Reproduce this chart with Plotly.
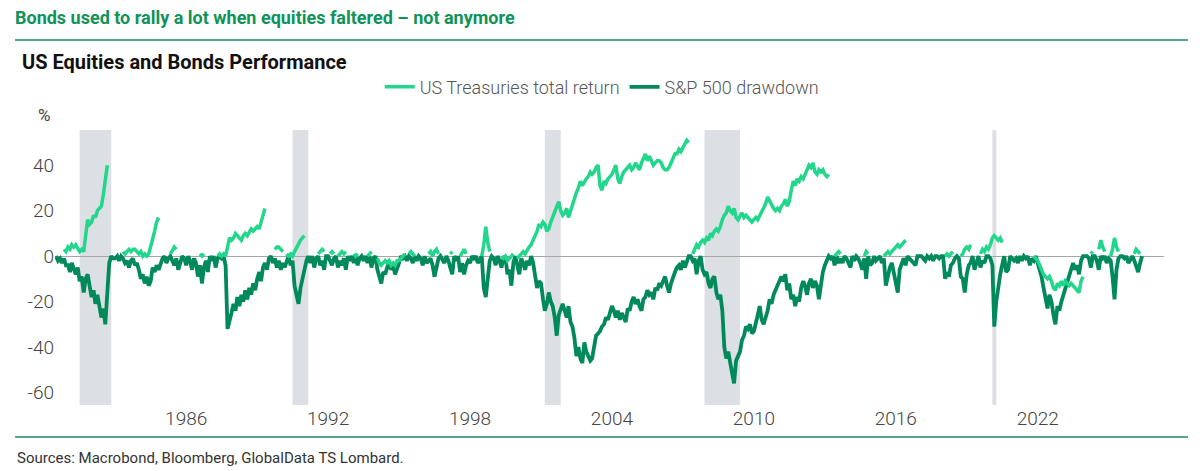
import pandas as pd
import plotly.graph_objects as go

N = None

MONTHS = pd.date_range("1980-07-01", "2026-06-01", freq="MS")

SPX_DRAWDOWN = [
    0, -2, -1, -3, -1, -4,                                   # 1980 H2
    -4, -7, -3, -6, -8, -5, -11, -9, -16, -10, -8, -13,      # 1981
    -18, -15, -21, -17, -22, -27, -23, -30, -16, -3, 0, -1,  # 1982
    -1, 0, -2, 0, -1, -3, -2, -5, -2, -1, -4, -3,            # 1983
    -6, -10, -8, -12, -9, -13, -11, -5, -7, -4, -6, -3,      # 1984
    -1, 0, -3, -1, 0, -2, -4, -1, -6, -3, 0, -1,             # 1985
    -4, 0, -2, -6, -1, -3, -9, -4, -12, -5, -2, -7,          # 1986
    0, -2, 0, -5, -1, 0, -1, 0, -4, -32, -29, -25,           # 1987
    -21, -24, -18, -22, -17, -20, -15, -19, -14, -17, -12, -15,  # 1988
    -10, -7, -11, -5, -3, -6, -1, 0, -3, -1, -5, -2,         # 1989
    -6, -3, -5, -2, 0, -4, -2, -13, -17, -21, -14, -10,      # 1990
    -6, -2, 0, -3, 0, -5, -1, 0, -4, -2, -6, 0,              # 1991
    0, -2, -4, -1, 0, -5, -2, -4, -1, -6, 0, -2,             # 1992
    0, -3, 0, -4, -1, 0, -2, 0, -3, 0, -5, -1,               # 1993
    0, -6, -9, -12, -7, -8, -5, -3, -6, -4, -8, -6,          # 1994
    -3, 0, -1, 0, -2, 0, -1, -3, 0, -2, 0, -1,               # 1995
    -4, 0, -3, -2, -1, -4, -9, -5, -1, 0, -2, -3,            # 1996
    0, -2, -5, -8, 0, -2, 0, -7, -3, -8, -4, -2,             # 1997
    -3, 0, -1, 0, -3, -1, 0, -14, -18, -10, -2, 0,           # 1998
    -1, -4, 0, -2, -5, -1, 0, -8, -6, -13, -3, 0,            # 1999
    -5, -8, -1, -3, -6, -2, -4, 0, -3, -9, -14, -11,         # 2000
    -12, -19, -24, -21, -16, -20, -22, -27, -35, -26, -23, -21,  # 2001
    -24, -27, -22, -29, -31, -36, -44, -40, -45, -47, -38, -42,  # 2002
    -44, -46, -45, -40, -35, -34, -33, -31, -30, -27, -28, -25,  # 2003
    -22, -24, -27, -24, -28, -25, -27, -29, -23, -24, -20, -18,  # 2004
    -21, -19, -22, -24, -19, -18, -15, -17, -16, -19, -14, -15,  # 2005
    -12, -13, -11, -9, -13, -16, -12, -10, -7, -5, -4, -6,   # 2006
    -2, -5, -3, 0, 0, -2, -1, -8, -2, 0, -6, -8,             # 2007
    -7, -12, -14, -10, -9, -16, -19, -17, -24, -40, -45, -42,    # 2008
    -47, -52, -56, -46, -44, -42, -37, -35, -31, -32, -30, -34,  # 2009
    -33, -30, -26, -22, -28, -30, -27, -24, -19, -21, -17, -15,  # 2010
    -13, -10, -9, -11, -8, -15, -12, -19, -17, -22, -18, -20,    # 2011
    -14, -11, -13, -17, -12, -10, -14, -11, -13, -19, -12, -7,   # 2012
    -4, -2, 0, -1, 0, -4, 0, -3, -1, -3, 0, -1,              # 2013
    -3, -5, 0, -2, 0, -1, -3, -6, -1, -10, 0, -4,            # 2014
    -3, 0, -2, -1, 0, -3, -1, -13, -9, -5, -3, -7,           # 2015
    -11, -16, -6, -3, -1, -4, 0, -1, -2, -3, -4, 0,          # 2016
    0, 0, -1, -2, 0, -1, 0, -2, 0, 0, -1, 0,                 # 2017
    0, -10, -7, -9, -4, -3, -1, 0, -1, -9, -10, -16,         # 2018
    -8, -4, -3, 0, -6, -2, 0, -5, -2, -3, 0, 0,              # 2019
    -1, -4, -31, -20, -13, -8, -4, 0, -7, -6, 0, -1,         # 2020
    -2, -1, -3, 0, -2, 0, -1, 0, -4, -1, -2, 0,              # 2021
    -3, -6, -9, -14, -19, -23, -17, -20, -26, -30, -22, -24, # 2022
    -20, -17, -14, -12, -9, -6, -3, -6, -4, -8, -2, 0,       # 2023
    0, 0, -1, -5, 0, 0, -2, -6, 0, -1, 0, -3,                # 2024
    -1, -2, -9, -19, -6, -1, 0, 0, -1, 0, -3, -1,            # 2025
    0, -2, -4, -7, -3, 0,                                    # 2026 H1
]

# treasury total return since the prior equity peak, only shown while stocks are in drawdown
UST_TOTAL_RETURN = [
    N, N, N, N, 3, 2,                                        # 1980 H2
    4, 3, 5, 4, 5, 3, 2, 3, 2, 9, 16, 14,                    # 1981
    15, 18, 17, 20, 21, 22, 27, 33, 40, N, N, N,             # 1982
    N, N, N, N, 2, 1, 2, 3, 2, 3, 3, 2,                      # 1983
    1, 2, 0, 1, 0, 1, 4, 8, 11, 15, 17, N,                   # 1984
    N, N, N, N, 1, 3, 4, 3, N, N, N, N,                      # 1985
    N, N, N, N, N, N, N, 1, 0, 1, N, N,                      # 1986
    N, N, N, N, 0, 1, 0, 1, 0, 4, 8, 7,                      # 1987
    8, 10, 9, 8, 7, 9, 10, 9, 11, 12, 11, 12,                # 1988
    13, 12, 15, 17, 21, N, N, N, N, 3, 4, 4,                 # 1989
    3, 2, N, 1, 0, 1, 0, 2, 4, 5, 7, 8,                      # 1990
    9, N, N, N, N, N, N, 1, 2, 3, 2, N,                      # 1991
    N, 1, 2, 1, N, 0, 1, 2, 1, 2, N, N,                      # 1992
    N, 1, 0, 1, N, N, N, N, 0, 1, 2, N,                      # 1993
    N, -1, -3, -4, -3, -2, -3, -2, -4, -3, -4, -2,           # 1994
    -2, -1, 0, 1, N, 1, 2, 1, 0, N, N, N,                    # 1995
    N, N, N, 1, 2, 0, 2, 3, 1, N, N, N,                      # 1996
    N, N, 1, 2, N, N, N, 0, 2, 3, 1, N,                      # 1997
    N, N, N, N, N, N, 0, 5, 13, 6, 2, N,                     # 1998
    N, 0, N, N, 0, -1, 0, -2, -1, 0, 1, N,                   # 1999
    -1, 0, 1, 2, 1, 3, 4, 5, 7, 9, 11, 14,                   # 2000
    13, 15, 14, 11, 12, 15, 17, 19, 22, 24, 20, 18,          # 2001
    19, 21, 17, 20, 22, 25, 28, 30, 33, 31, 33, 34,          # 2002
    35, 37, 36, 37, 39, 40, 31, 29, 33, 32, 34, 35,          # 2003
    36, 38, 40, 34, 32, 35, 37, 38, 39, 40, 38, 39,          # 2004
    41, 39, 38, 41, 43, 45, 42, 44, 42, 40, 41, 42,          # 2005
    42, 41, 39, 38, 38, 39, 41, 43, 45, 45, 47, 46,          # 2006
    48, 50, 51, 50, N, 1, 3, 5, 4, 6, 7, 6,                  # 2007
    8, 7, 10, 9, 11, 12, 11, 13, 16, 18, 19, 22,             # 2008
    20, 19, 21, 17, 16, 18, 19, 17, 18, 17, 16, 15,          # 2009
    16, 17, 16, 18, 20, 22, 23, 26, 24, 23, 21, 20,          # 2010
    21, 20, 22, 23, 25, 22, 24, 29, 33, 31, 34, 33,          # 2011
    35, 34, 36, 38, 40, 39, 41, 37, 36, 38, 37, 38,          # 2012
    36, 35, 36, N, N, 0, 1, 2, 1, N, N, N,                   # 2013
    N, N, N, N, N, N, N, N, 0, 2, 1, N,                      # 2014
    N, N, N, N, N, N, 0, 1, 2, 1, 2, 3,                      # 2015
    4, 5, 4, 5, 6, 7, N, N, N, N, N, N,                      # 2016
    N, N, N, N, N, N, N, N, N, N, N, N,                      # 2017
    N, 0, 1, 0, 1, 2, N, N, N, 0, 1, 3,                      # 2018
    4, 3, 5, N, N, N, N, 1, 3, 2, 4, 3,                      # 2019
    5, 8, 9, 8, 7, 8, 6, N, N, N, N, N,                      # 2020
    N, N, N, N, N, N, N, N, N, N, 0, -1,                     # 2021
    -2, -4, -6, -8, -9, -10, -9, -11, -14, -15, -12, -13,    # 2022
    -11, -13, -11, -12, -13, -12, -13, -14, -15, -16, -11, -9,   # 2023
    N, N, N, 1, 2, N, N, 3, 7, 4, 2, N,                      # 2024
    N, 0, 3, 8, 4, 2, N, N, N, N, 1, N,                      # 2025
    N, 1, 3, 2, 1, N,                                        # 2026 H1
]

# US recessions (shaded)
RECESSION_START = ["1981-07-01", "1990-07-01", "2001-03-01", "2007-12-01", "2020-02-01"]
RECESSION_END = ["1982-11-01", "1991-03-01", "2001-11-01", "2009-06-01", "2020-04-01"]

TICK_YEARS = ["1986", "1992", "1998", "2004", "2010", "2016", "2022"]
Y_TICKS = [-60, -40, -20, 0, 20, 40]

assert len(SPX_DRAWDOWN) == len(MONTHS) == len(UST_TOTAL_RETURN)

LIGHT = "#22d68b"
DARK = "#00895a"
BRAND = "#0f9358"
TXT = "#444444"
FONT = "Roboto"

fig = go.Figure()
fig.add_trace(go.Scatter(x=MONTHS, y=SPX_DRAWDOWN, name="S&P 500 drawdown", mode="lines",
                         line=dict(color=DARK, width=3.8)))
fig.add_trace(go.Scatter(x=MONTHS, y=UST_TOTAL_RETURN, name="US Treasuries total return",
                         mode="lines", connectgaps=False, line=dict(color=LIGHT, width=3.5)))

for s, e in zip(RECESSION_START, RECESSION_END):
    fig.add_shape(type="rect", xref="x", yref="paper", x0=s, x1=e, y0=0, y1=1,
                  fillcolor="#dcdfe4", line_width=0, layer="below")

# header / footer rules
for yy in (1.327, -0.116):
    fig.add_shape(type="line", xref="paper", yref="paper", x0=-0.036, x1=1.0216, y0=yy, y1=yy,
                  line=dict(color="#1d8a5e", width=1.5))

fig.add_annotation(text="<b>US Equities and Bonds Performance</b>", xref="paper", yref="paper",
                   x=-0.0316, y=1.247, xanchor="left", yanchor="middle", showarrow=False,
                   font=dict(family=FONT, size=20, color="#111111"))
fig.add_annotation(text="%", xref="paper", yref="paper", x=-0.003, y=1.055,
                   xanchor="right", yanchor="middle", showarrow=False,
                   font=dict(family=FONT, size=17, color=TXT))
fig.add_annotation(text="Sources: Macrobond, Bloomberg, GlobalData TS Lombard.", xref="paper",
                   yref="paper", x=-0.036, y=-0.193, xanchor="left", yanchor="middle",
                   showarrow=False, font=dict(family=FONT, size=15, color="#333333"))

fig.update_xaxes(type="date", range=["1980-06-15", "2027-05-05"],
                 tickvals=[f"{y}-01-01" for y in TICK_YEARS], ticktext=TICK_YEARS,
                 showgrid=False, zeroline=False, showline=False, ticks="",
                 tickfont=dict(family=FONT, size=19, color=TXT, weight=300))
fig.update_yaxes(range=[-65.5, 55.5], tickvals=Y_TICKS, ticktext=[str(v) for v in Y_TICKS],
                 showgrid=False, zeroline=True, zerolinecolor="#a6a6a6", zerolinewidth=1,
                 showline=False, ticks="", automargin=False,
                 tickfont=dict(family=FONT, size=19, color=TXT, weight=300))

fig.update_layout(
    width=1200, height=471,
    title=dict(text="<b>Bonds used to rally a lot when equities faltered – not anymore</b>",
               x=0.0125, xanchor="left", y=0.962, yanchor="middle",
               font=dict(family=FONT, size=18, color=BRAND)),
    legend=dict(orientation="h", traceorder="reversed", x=0.493, xanchor="center",
                y=1.156, yanchor="middle", font=dict(family=FONT, size=18, color="#555555", weight=300),
                bgcolor="rgba(0,0,0,0)"),
    plot_bgcolor="white", paper_bgcolor="white",
    margin=dict(l=55, r=36, t=130, b=66, autoexpand=False),
)

# the page is photographed at exactly the figure size, so drop the default body margin
fig.write_html("out.html", config={"displayModeBar": False},
               post_script="document.body.style.margin='0';")
